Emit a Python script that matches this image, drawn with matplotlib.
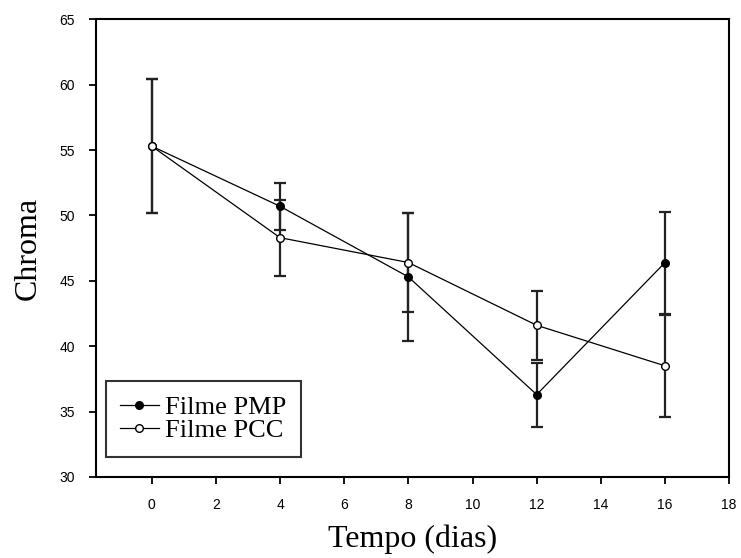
import matplotlib
matplotlib.use("Agg")
import matplotlib.pyplot as plt

days = [0, 4, 8, 12, 16]
pmp = [55.3, 50.7, 45.3, 36.3, 46.4]
pmp_err = [5.1, 1.8, 4.9, 2.45, 3.9]
pcc = [55.3, 48.3, 46.4, 41.6, 38.5]
pcc_err = [5.1, 2.9, 3.8, 2.65, 3.9]

xticks = [0, 2, 4, 6, 8, 10, 12, 14, 16, 18]
yticks = [30, 35, 40, 45, 50, 55, 60, 65]

fig = plt.figure(figsize=(7.41, 5.58), dpi=100)
ax = fig.add_axes([0.129, 0.1452, 0.855, 0.8202])

ekw = dict(ecolor="#222222", elinewidth=1.6, capsize=4.5, capthick=1.6)
ax.errorbar(days, pmp, yerr=pmp_err, fmt="none", zorder=2, **ekw)
ax.errorbar(days, pcc, yerr=pcc_err, fmt="none", zorder=2, **ekw)
ax.plot(days, pmp, color="black", lw=0.9, marker="o", markersize=5.5,
        markerfacecolor="black", markeredgecolor="black", label="Filme PMP", zorder=3)
ax.plot(days, pcc, color="black", lw=0.9, marker="o", markersize=5.5,
        markerfacecolor="white", markeredgecolor="black", markeredgewidth=1.0,
        label="Filme PCC", zorder=4)

ax.set_xlim(-1.75, 18)
ax.set_ylim(30, 65)
ax.set_xticks(xticks)
ax.set_yticks(yticks)
for s in ax.spines.values():
    s.set_linewidth(1.5)
ax.tick_params(direction="out", length=5, width=1.3, pad=10)
for lab in ax.get_xticklabels() + ax.get_yticklabels():
    lab.set_fontfamily("Liberation Sans")
    lab.set_fontsize(10)

ax.set_xlabel("Tempo (dias)", fontfamily="Liberation Serif", fontsize=23, labelpad=9)
ax.set_ylabel("Chroma", fontfamily="Liberation Serif", fontsize=23, labelpad=12)

leg = ax.legend(loc="lower left", bbox_to_anchor=(0.016, 0.044), borderaxespad=0,
                prop={"family": "Liberation Serif", "size": 19},
                frameon=True, fancybox=False, edgecolor="black",
                handlelength=1.45, handletextpad=0.25, labelspacing=-0.02,
                borderpad=0.55)
leg.get_frame().set_linewidth(1.5)

fig.savefig("out.png", dpi=100)
